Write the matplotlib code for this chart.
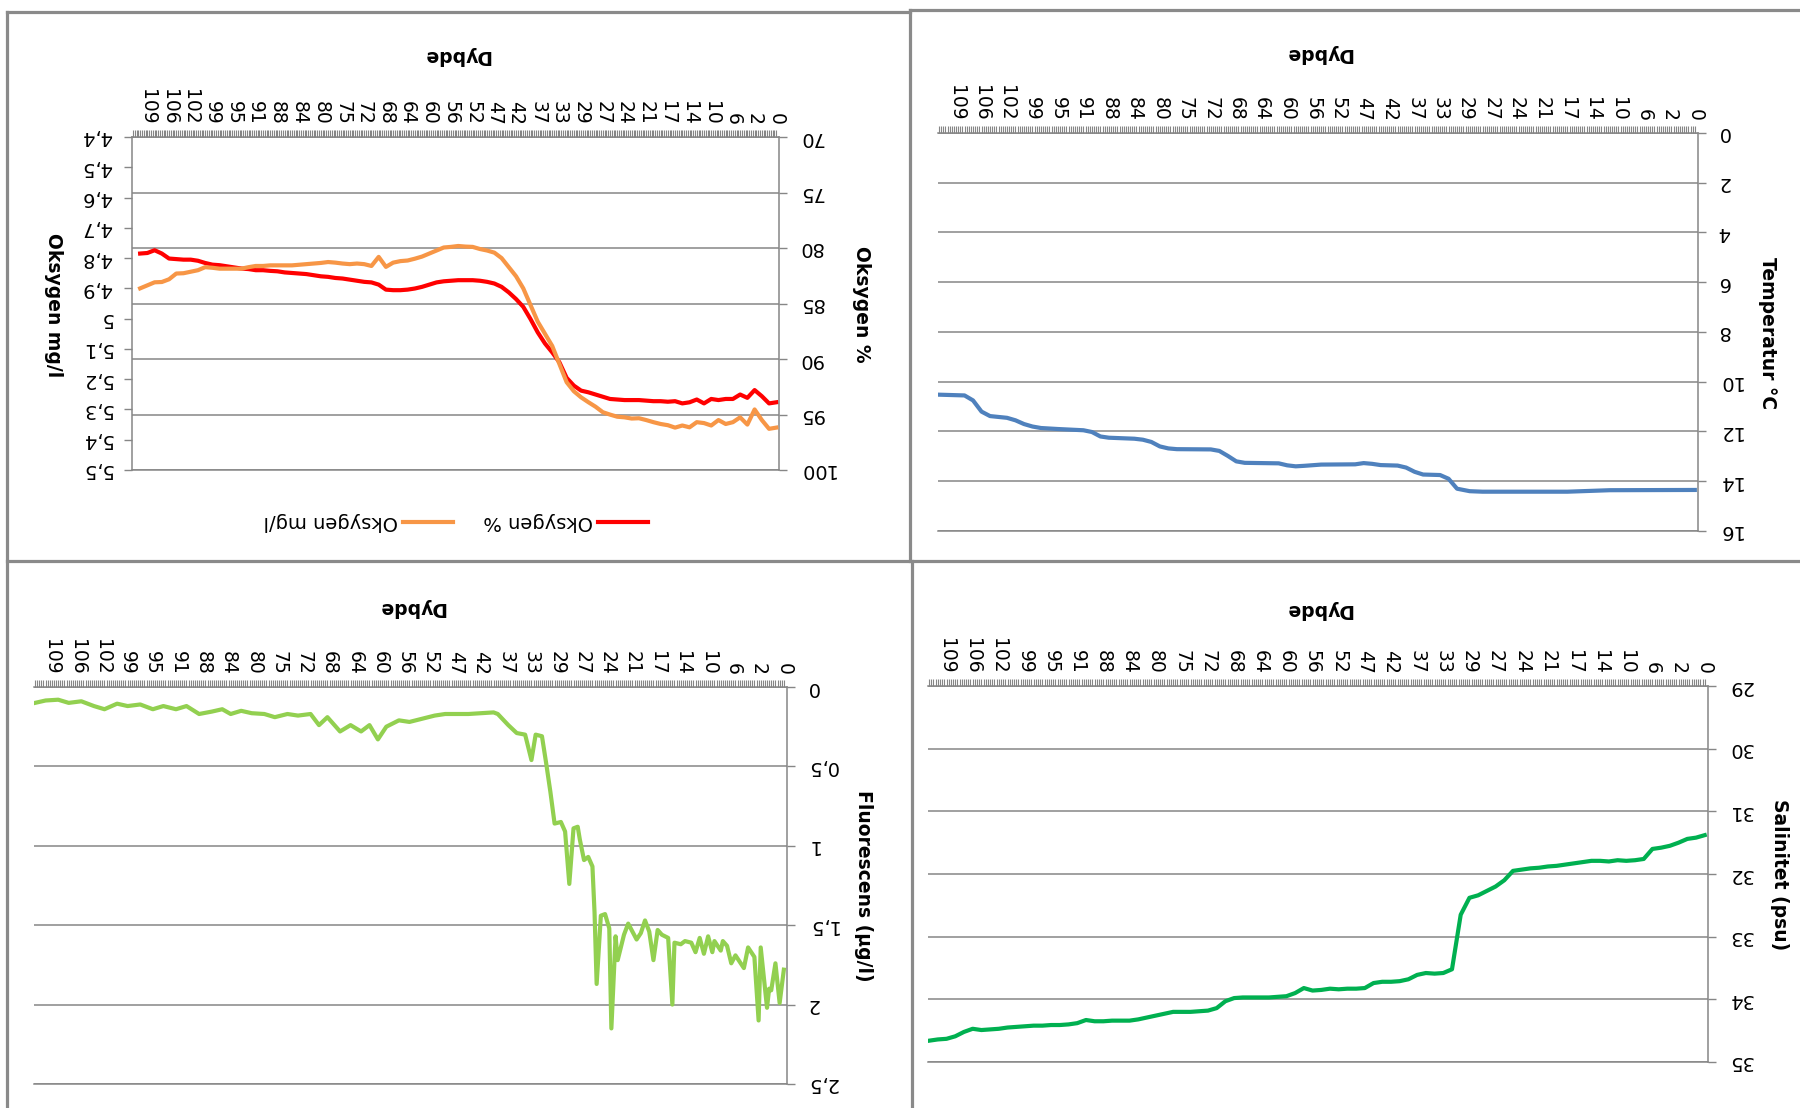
import matplotlib
matplotlib.use("Agg")
import matplotlib.pyplot as plt
from matplotlib.lines import Line2D
import numpy as np

# The whole sheet is shown turned upside down (rotated 180 degrees),
# so every axis is inverted and every text is drawn rotated.
W, H = 1800, 1108
GRID = "#868686"
BORDER = "#8a8a8a"

# depth labels on the category axis, one label every LABEL_STEP records
DEPTH_LABELS = [0, 2, 6, 10, 14, 17, 21, 24, 27, 29, 33, 37, 42, 47, 52,
                56, 60, 64, 68, 72, 75, 80, 84, 88, 91, 95, 99, 102, 106, 109]
LABEL_STEP = 12
N_RECORDS = 357

# oxygen, read every 4th record
OXY_REC = list(range(0, 356, 4))
OXY_PCT = [93.9, 94.0, 93.35, 92.8, 93.5, 93.2, 93.6, 93.6, 93.7, 93.6,
           94.0, 93.65, 93.9, 94.0, 93.8, 93.85, 93.8, 93.8, 93.75, 93.7,
           93.7, 93.7, 93.65, 93.6, 93.4, 93.2, 93.0, 92.85, 92.4, 91.7,
           90.3, 89.4, 88.6, 87.6, 86.4, 85.3, 84.6, 84.0, 83.5, 83.2,
           83.05, 82.95, 82.9, 82.9, 82.9, 82.95, 83.0, 83.1, 83.3, 83.5,
           83.65, 83.75, 83.8, 83.8, 83.75, 83.3, 83.1, 83.05, 82.95, 82.85,
           82.75, 82.7, 82.6, 82.55, 82.45, 82.35, 82.3, 82.25, 82.2, 82.1,
           82.06, 82.0, 82.0, 81.9, 81.85, 81.75, 81.65, 81.55, 81.5, 81.35,
           81.15, 81.05, 81.05, 81.0, 80.95, 80.5, 80.2, 80.45, 80.5]
OXY_MGL = [5.360, 5.364, 5.335, 5.300, 5.350, 5.326, 5.342, 5.348, 5.335, 5.353,
           5.345, 5.342, 5.359, 5.353, 5.360, 5.352, 5.348, 5.342, 5.335, 5.329,
           5.330, 5.326, 5.324, 5.317, 5.309, 5.291, 5.276, 5.260, 5.240, 5.210,
           5.150, 5.090, 5.050, 5.010, 4.955, 4.900, 4.860, 4.830, 4.800, 4.782,
           4.775, 4.770, 4.763, 4.762, 4.760, 4.763, 4.765, 4.775, 4.785, 4.795,
           4.802, 4.808, 4.810, 4.815, 4.829, 4.796, 4.826, 4.820, 4.818, 4.820,
           4.818, 4.815, 4.813, 4.816, 4.818, 4.820, 4.822, 4.824, 4.824, 4.824,
           4.824, 4.826, 4.826, 4.830, 4.835, 4.835, 4.835, 4.835, 4.832, 4.830,
           4.840, 4.845, 4.850, 4.851, 4.870, 4.879, 4.880, 4.890, 4.900]

# temperature, breakpoints of the stepped profile
TEMP_REC = [0, 40, 60, 100, 106, 112, 116, 120, 128, 132,
            136, 140, 148, 152, 156, 160, 176, 184, 188, 192,
            196, 212, 216, 220, 224, 228, 244, 248, 252, 256,
            260, 264, 276, 280, 284, 288, 300, 308, 312, 316,
            320, 324, 332, 336, 340, 344, 356]
TEMP_VAL = [14.35, 14.36, 14.42, 14.42, 14.40, 14.30, 13.90, 13.75, 13.73, 13.62,
            13.45, 13.37, 13.35, 13.30, 13.27, 13.32, 13.33, 13.38, 13.40, 13.36,
            13.28, 13.26, 13.20, 12.98, 12.78, 12.72, 12.71, 12.68, 12.60, 12.42,
            12.33, 12.29, 12.25, 12.20, 12.02, 11.95, 11.90, 11.86, 11.80, 11.70,
            11.55, 11.45, 11.38, 11.20, 10.75, 10.55, 10.52]

# fluorescence
FLUO_REC = [0, 2, 4, 6, 7, 8, 11, 12, 14, 17,
            19, 21, 23, 25, 27, 29, 30, 33, 34, 36,
            38, 40, 42, 44, 47, 49, 52, 53, 55, 58,
            60, 62, 64, 66, 68, 70, 74, 76, 79, 80,
            82, 83, 85, 87, 89, 90, 91, 93, 95, 97,
            98, 100, 102, 104, 106, 109, 111, 113, 115, 118,
            120, 123, 127, 131, 136, 138, 150, 161, 166, 172,
            178, 183, 189, 193, 197, 201, 206, 211, 217, 221,
            225, 231, 236, 242, 247, 253, 258, 263, 267, 272,
            278, 284, 289, 295, 300, 306, 312, 317, 323, 328,
            334, 340, 345, 351, 356]
FLUO_VAL = [1.78, 1.99, 1.74, 1.91, 1.90, 2.02, 1.64, 2.10, 1.70, 1.64,
            1.77, 1.73, 1.69, 1.74, 1.63, 1.60, 1.66, 1.60, 1.67, 1.57,
            1.68, 1.58, 1.67, 1.61, 1.60, 1.62, 1.61, 2.00, 1.58, 1.56,
            1.53, 1.72, 1.54, 1.47, 1.55, 1.59, 1.49, 1.56, 1.72, 1.57,
            2.15, 1.52, 1.43, 1.44, 1.87, 1.42, 1.13, 1.07, 1.09, 0.96,
            0.88, 0.89, 1.24, 0.91, 0.85, 0.86, 0.66, 0.48, 0.31, 0.30,
            0.46, 0.30, 0.29, 0.24, 0.17, 0.16, 0.17, 0.17, 0.18, 0.20,
            0.22, 0.21, 0.25, 0.33, 0.24, 0.28, 0.24, 0.28, 0.19, 0.24,
            0.17, 0.18, 0.17, 0.19, 0.17, 0.165, 0.15, 0.17, 0.14, 0.155,
            0.17, 0.12, 0.14, 0.12, 0.14, 0.11, 0.12, 0.105, 0.14, 0.12,
            0.09, 0.10, 0.08, 0.085, 0.10]

# salinity, read every 4th record
SAL_REC = list(range(0, 360, 4))
SAL_VAL = [31.38, 31.42, 31.44, 31.50, 31.55, 31.58, 31.60, 31.76, 31.78, 31.79,
           31.78, 31.80, 31.79, 31.79, 31.81, 31.83, 31.85, 31.87, 31.88, 31.90,
           31.91, 31.93, 31.95, 32.10, 32.20, 32.27, 32.34, 32.38, 32.65, 33.52,
           33.58, 33.59, 33.58, 33.61, 33.68, 33.71, 33.72, 33.72, 33.74, 33.82,
           33.83, 33.83, 33.84, 33.83, 33.85, 33.86, 33.82, 33.90, 33.95, 33.96,
           33.97, 33.97, 33.97, 33.97, 33.98, 34.03, 34.14, 34.18, 34.19, 34.20,
           34.20, 34.20, 34.23, 34.26, 34.29, 34.32, 34.34, 34.34, 34.34, 34.35,
           34.35, 34.33, 34.38, 34.40, 34.41, 34.41, 34.42, 34.42, 34.43, 34.44,
           34.45, 34.47, 34.48, 34.49, 34.47, 34.52, 34.59, 34.63, 34.64, 34.66]

PCT_TICKS = [70, 75, 80, 85, 90, 95, 100]
MGL_TICKS = [4.4, 4.5, 4.6, 4.7, 4.8, 4.9, 5.0, 5.1, 5.2, 5.3, 5.4, 5.5]
TEMP_TICKS = [0, 2, 4, 6, 8, 10, 12, 14, 16]
FLUO_TICKS = [0, 0.5, 1, 1.5, 2, 2.5]
SAL_TICKS = [29, 30, 31, 32, 33, 34, 35]

plt.rcParams["font.family"] = ["DejaVu Sans"]
TICK_SIZE = 14
TITLE_SIZE = 13.5


def fx(px):
    return px / W


def fy(py):
    return 1 - py / H


def box(x0, y0, x1, y1):
    return [fx(x0), fy(y1), (x1 - x0) / W, (y1 - y0) / H]


def comma(v):
    return f"{v:g}".replace(".", ",")


def style_axes(ax, ticks):
    ax.set_xlim(N_RECORDS - 0.5, -1.5)
    ax.set_ylim(ticks[-1], ticks[0])
    ax.xaxis.tick_top()
    label_pos = [i * LABEL_STEP for i in range(len(DEPTH_LABELS))]
    ax.set_xticks(label_pos)
    ax.set_xticklabels([str(d) for d in DEPTH_LABELS], rotation=270, fontsize=13.5)
    ax.set_xticks(np.arange(0, N_RECORDS), minor=True)
    ax.tick_params(axis="x", which="both", top=True, bottom=False, direction="out",
                   length=5, width=0.8, color=GRID, pad=4)
    ax.yaxis.tick_right()
    ax.set_yticks(ticks)
    ax.set_yticklabels([comma(t) for t in ticks], rotation=180, fontsize=TICK_SIZE, va="center")
    ax.tick_params(axis="y", direction="out", length=6, width=1.0, color=GRID, pad=8)
    ax.yaxis.grid(True, color=GRID, linewidth=1.1)
    ax.set_axisbelow(True)
    for side in ("top", "right", "bottom"):
        ax.spines[side].set_color(GRID)
        ax.spines[side].set_linewidth(1.1)
    ax.spines["left"].set_visible(False)


def upside_title(x, y, text, rotation):
    fig.text(fx(x), fy(y), text, rotation=rotation, ha="center", va="center",
             fontsize=TITLE_SIZE, fontweight="bold")


fig = plt.figure(figsize=(W / 100, H / 100), dpi=100)

# panel borders
for (x0, y0, x1, y1) in [(7, 12, 910, 12), (7, 12, 7, 1108), (910, 10, 910, 561),
                         (910, 10, 1800, 10), (7, 561, 1800, 561), (912, 561, 912, 1108)]:
    fig.add_artist(Line2D([fx(x0), fx(x1)], [fy(y0), fy(y1)], color=BORDER, lw=2.3))

# oxygen
ax_o = fig.add_axes(box(132, 137, 779, 470))
ax_m = ax_o.twinx()
style_axes(ax_o, PCT_TICKS)
ax_m.set_ylim(MGL_TICKS[-1], MGL_TICKS[0])
ax_m.yaxis.tick_left()
ax_m.set_yticks(MGL_TICKS)
ax_m.set_yticklabels([comma(t) for t in MGL_TICKS], rotation=180, fontsize=TICK_SIZE, va="center")
ax_m.tick_params(axis="y", direction="out", length=6, width=1.0, color=GRID, pad=8)
for side in ("top", "right", "bottom"):
    ax_m.spines[side].set_visible(False)
ax_m.spines["left"].set_color(GRID)
ax_m.spines["left"].set_linewidth(1.1)
ax_o.plot(OXY_REC, OXY_PCT, color="#ff0000", lw=3)
ax_m.plot(OXY_REC, OXY_MGL, color="#f79646", lw=3)
upside_title(456, 55, "Dybde", 180)
upside_title(53, 305, "Oksygen mg/l", 270)
upside_title(862, 304, "Oksygen %", 270)
for label, color, x_text, x0, x1 in [("Oksygen mg/l", "#f79646", 398, 403, 453),
                                     ("Oksygen %", "#ff0000", 593, 598, 648)]:
    fig.add_artist(Line2D([fx(x0), fx(x1)], [fy(522), fy(522)], color=color, lw=3))
    fig.text(fx(x_text), fy(522), label, rotation=180, ha="right", va="center", fontsize=14)

# temperature
ax_t = fig.add_axes(box(938, 133, 1698, 531))
style_axes(ax_t, TEMP_TICKS)
ax_t.plot(TEMP_REC, TEMP_VAL, color="#4f81bd", lw=3)
upside_title(1318, 54, "Dybde", 180)
upside_title(1768, 333, "Temperatur °C", 270)

# fluorescence
ax_f = fig.add_axes(box(34, 687, 787, 1084))
style_axes(ax_f, FLUO_TICKS)
ax_f.plot(FLUO_REC, FLUO_VAL, color="#92d050", lw=3)
upside_title(411, 607, "Dybde", 180)
upside_title(864, 886, "Fluorescens (µg/l)", 270)

# salinity
ax_s = fig.add_axes(box(928, 686, 1708, 1062))
style_axes(ax_s, SAL_TICKS)
ax_s.plot(SAL_REC, SAL_VAL, color="#00b050", lw=3)
upside_title(1318, 610, "Dybde", 180)
upside_title(1780, 875, "Salinitet (psu)", 270)

fig.savefig("out.png", dpi=100, facecolor="white")
plt.close(fig)
